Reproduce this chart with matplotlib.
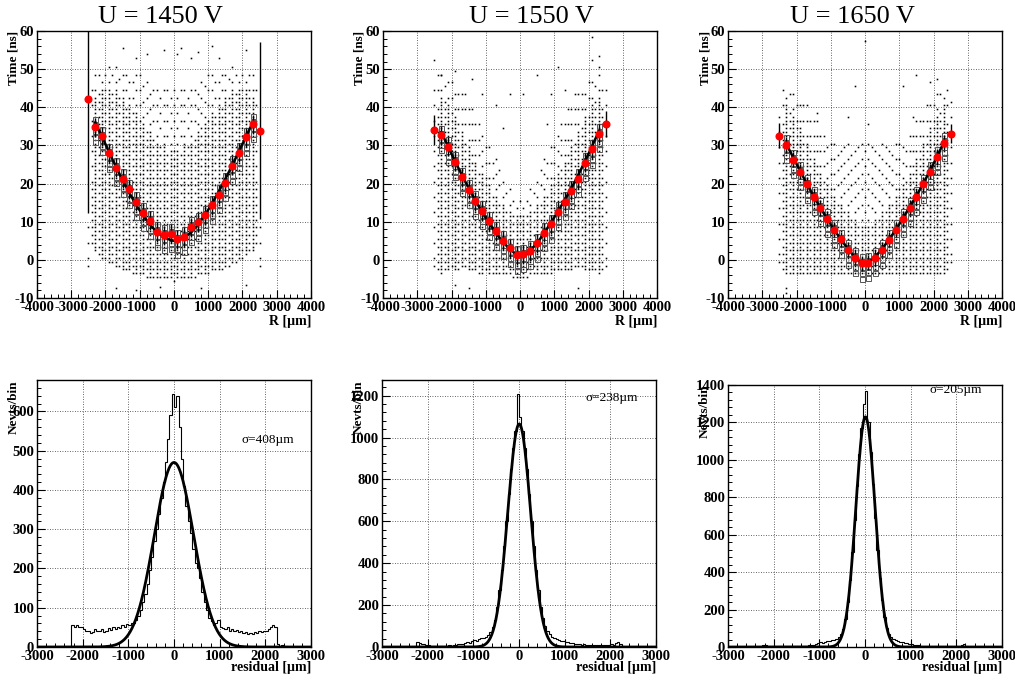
import numpy as np
import matplotlib
matplotlib.use('Agg')
import matplotlib.pyplot as plt
from matplotlib.ticker import MultipleLocator

plt.rcParams['font.family'] = ['Liberation Serif', 'DejaVu Serif']
plt.rcParams['axes.unicode_minus'] = False

W, H = 1015, 680

titles = ['U = 1450 V', 'U = 1550 V', 'U = 1650 V']
sigma_labels = ['σ=408µm', 'σ=238µm', 'σ=205µm']

# ---- top row: drift time vs R ----
red_x = [-2500, -2300, -2100, -1900, -1700, -1500, -1300, -1100, -900, -700, -500, -300, -100,
         100, 300, 500, 700, 900, 1100, 1300, 1500, 1700, 1900, 2100, 2300, 2500]
red_1450 = [42.3, 34.8, 32.4, 27.9, 24.2, 21.3, 18.5, 15.2, 12.4, 10.2, 7.3, 6.5, 6.9,
            5.4, 6.0, 8.6, 9.8, 11.7, 14.3, 17.1, 20.2, 24.7, 28.1, 32.1, 35.6, 33.8]
red_1550 = [34.1, 32.7, 29.6, 25.7, 21.6, 18.4, 15.4, 12.8, 10.1, 7.5, 5.0, 3.0, 1.2,
            1.5, 2.3, 4.3, 7.1, 9.3, 12.6, 15.2, 18.1, 21.2, 25.5, 29.0, 33.1, 35.6]
red_1650 = [32.5, 30.1, 26.3, 23.1, 19.8, 16.5, 13.6, 10.8, 7.9, 5.4, 2.7, 0.6, -0.9,
            -0.7, 0.5, 2.7, 5.3, 7.9, 10.8, 13.7, 16.5, 19.8, 23.1, 27.0, 30.7, 33.1]
# error bars (down, up) of the end points; inner points share one value
err_ends = {'1450': ((30.0, 20.0), (23.0, 23.4)),
            '1550': ((4.0, 4.0), (3.5, 3.5)),
            '1650': ((3.3, 3.3), (2.5, 2.5))}
err_inner = [2.5, 2.5, 2.0]

fit_x = [-2300, -2100, -1900, -1700, -1500, -1300, -1100, -900, -700, -500, -300, -100, 0,
         100, 300, 500, 700, 900, 1100, 1300, 1500, 1700, 1900, 2100, 2300]
fit_1450 = [36.0, 32.3, 28.3, 24.5, 20.9, 17.5, 14.3, 11.6, 9.2, 7.3, 6.0, 5.2, 5.0,
            5.1, 5.8, 7.2, 9.2, 11.7, 14.6, 17.8, 21.2, 24.8, 28.5, 32.3, 36.0]
fit_1550 = [33.5, 29.7, 25.9, 22.3, 18.8, 15.5, 12.4, 9.6, 7.0, 4.7, 2.8, 1.4, 1.1,
            1.2, 2.4, 4.4, 6.9, 9.7, 12.6, 15.6, 18.8, 22.2, 25.9, 29.7, 33.7]
fit_1650 = [30.4, 26.9, 23.4, 20.0, 16.7, 13.6, 10.7, 7.9, 5.3, 2.9, 0.8, -0.8, -1.1,
            -0.8, 0.8, 2.9, 5.3, 7.9, 10.8, 13.8, 16.8, 20.0, 23.4, 27.0, 30.8]

# scatter columns (R bins) with occupied time range: filled [lo, mid], thin (mid, hi]
col_x = list(range(-2500, 2501, 100))
lo_1450 = [-2, 4, 2, 1, 0, 0, -1, -1, -2, -2, -3, -3, -3, -4, -4, -4, -4, -5, -5, -5, -5, -5, -5, -5, -5, -6,
           -5, -5, -5, -5, -5, -5, -4, -4, -4, -4, -3, -3, -3, -3, -2, -2, -1, -1, 0, 0, 1, 2, 2, 4, -2]
mid_1450 = [-2, 20, 42, 44, 44, 44, 44, 44, 44, 43, 42, 40, 40, 38, 38, 36, 35, 34, 33, 32, 30, 30, 30, 28, 28, 28,
            28, 28, 30, 30, 30, 32, 33, 34, 35, 36, 38, 38, 40, 40, 42, 43, 44, 44, 44, 44, 44, 44, 42, 20, -2]
hi_1450 = [10, 46, 49, 49, 49, 49, 50, 50, 50, 50, 50, 50, 49, 49, 49, 48, 48, 47, 46, 46, 45, 45, 45, 44, 44, 44,
           44, 44, 45, 45, 45, 46, 46, 47, 48, 48, 49, 49, 49, 50, 50, 50, 50, 50, 49, 49, 49, 49, 49, 46, 10]
lo_1550 = [-2, -3, -4, -3, -3, -2, -3, -3, -2, -2, -3, -3, -3, -4, -4, -3, -4, -4, -4, -4, -4, -4, -4, -5, -5, -5,
           -5, -5, -4, -4, -4, -4, -4, -4, -4, -3, -3, -3, -3, -3, -3, -2, -2, -2, -3, -3, -3, -3, -4, -3, -2]
mid_1550 = [-2, 40, 42, 41, 40, 38, 37, 35, 33, 31, 29, 27, 25, 23, 22, 21, 19, 17, 16, 15, 14, 13, 12, 11, 11, 11,
            11, 11, 12, 13, 14, 15, 16, 17, 19, 21, 22, 23, 25, 27, 29, 31, 33, 35, 37, 38, 40, 41, 42, 40, -2]
hi_1550 = [46, 48, 48, 47, 47, 46, 46, 45, 44, 43, 42, 40, 38, 36, 34, 32, 30, 28, 26, 24, 22, 20, 18, 18, 16, 16,
           16, 18, 18, 20, 22, 24, 26, 28, 30, 32, 34, 36, 38, 40, 42, 43, 44, 45, 46, 46, 47, 47, 48, 47, 46]
lo_1650 = [-1, -3, -4, -4, -4, -4, -4, -4, -4, -4, -4, -4, -4, -4, -4, -4, -4, -4, -4, -4, -4, -4, -4, -4, -4, -4,
           -4, -4, -4, -4, -4, -4, -4, -4, -4, -4, -4, -4, -4, -4, -4, -4, -4, -4, -4, -4, -4, -4, -4, -3, -1]
mid_1650 = [-1, 36, 40, 39, 37, 36, 34, 32, 30, 28, 26, 24, 22, 20, 19, 18, 16, 15, 14, 13, 12, 11, 10, 9, 8, 8,
            8, 9, 10, 11, 12, 13, 14, 15, 16, 18, 19, 20, 22, 24, 26, 28, 30, 32, 34, 36, 37, 39, 40, 36, -1]
hi_1650 = [40, 44, 45, 45, 44, 43, 42, 40, 40, 39, 38, 36, 34, 32, 31, 30, 30, 30, 30, 30, 30, 30, 30, 30, 30, 30,
           30, 30, 30, 30, 30, 30, 30, 30, 30, 30, 30, 31, 32, 34, 36, 38, 39, 40, 42, 43, 44, 45, 45, 44, 44]
# isolated hits outside the bands
out_1450 = [(-1500, 55.5), (-1100, 53), (-800, 54), (-300, 55), (100, 54), (200, 55.5), (500, 53), (700, 54.5),
            (1100, 56), (1300, 53), (2100, 55), (-1700, -7.5), (-1100, -8), (-400, -7), (800, -7.5), (2100, -6.5)]
out_1550 = [(-2500, 52.5), (-2300, 48.5), (-1900, 49.5), (-1400, 47.5), (-1100, 43.5), (-700, 40.5), (-500, 34.5),
            (-300, 43.5), (100, 43.5), (500, 48.5), (800, 35.5), (900, 43.5), (1100, 50.5), (1300, 44.5),
            (2100, 58.5), (2100, 52.5), (2300, 53.5), (2300, 50.5), (-1900, -6.5), (-1500, -7.5), (1700, -7.5)]
out_1650 = [(0, 57.5), (-300, 45.5), (-500, 37.5), (100, 35.5), (1500, 48.5), (2100, 47.5), (1900, 46.5),
            (-2300, -7.5), (-2300, -8.8), (1100, 45.5), (-1400, 38.5), (1400, 37.5)]

# ---- bottom row: residual histograms ----
bin_edges = np.arange(-2250, 2501, 50)
h_1450 = [55, 50, 55, 50, 52, 45, 40, 42, 35, 38,
          45, 42, 40, 45, 38, 42, 48, 44, 50, 45,
          52, 48, 55, 50, 58, 55, 62, 60, 70, 80,
          95, 115, 135, 160, 195, 230, 270, 300, 340, 380,
          420, 470, 530, 590, 645, 610, 640, 560, 480, 410,
          360, 320, 290, 250, 215, 200, 175, 140, 115, 95,
          75, 65, 55, 60, 70, 50, 48, 45, 50, 42,
          45, 40, 43, 38, 40, 35, 38, 32, 36, 34,
          38, 36, 40, 38, 42, 40, 45, 50, 55, 50,
          8, 3, 5, 2, 3]
h_1550 = [22, 18, 15, 14, 10, 8, 6, 5, 4, 5,
          6, 5, 7, 6, 8, 7, 10, 9, 12, 14,
          15, 18, 22, 20, 28, 32, 30, 38, 42, 42,
          48, 55, 70, 95, 130, 190, 270, 370, 480, 600,
          730, 850, 950, 1030, 1210, 1100, 1030, 950, 850, 730,
          600, 480, 370, 270, 190, 140, 100, 75, 60, 50,
          45, 40, 35, 30, 28, 25, 22, 20, 18, 15,
          14, 12, 10, 12, 10, 8, 10, 8, 9, 8,
          10, 9, 8, 10, 8, 12, 10, 20, 22, 15,
          3, 0, 2, 0, 1]
h_1650 = [12, 10, 8, 6, 5, 4, 3, 3, 4, 3,
          4, 3, 4, 5, 4, 5, 6, 5, 7, 8,
          9, 10, 12, 15, 20, 25, 22, 28, 30, 30,
          35, 40, 45, 55, 70, 95, 150, 240, 360, 510,
          680, 860, 1030, 1170, 1300, 1370, 1200, 1040, 870, 690,
          520, 370, 250, 160, 100, 70, 55, 45, 38, 32,
          28, 25, 22, 20, 18, 15, 12, 10, 9, 8,
          7, 6, 5, 5, 4, 4, 3, 4, 3, 4,
          3, 4, 3, 4, 5, 5, 6, 10, 14, 8,
          2, 0, 1, 0, 0]
# gaussian fit parameters (amplitude, mean, width) as drawn
gaus_amp = [470, 1065, 1230]
gaus_mean = [0, 5, 10]
gaus_width = [430, 250, 210]
h_ymax = [680, 1275, 1400]
h_ymajor = [100, 200, 200]

red_all = [red_1450, red_1550, red_1650]
fit_all = [fit_1450, fit_1550, fit_1650]
lo_all = [lo_1450, lo_1550, lo_1650]
mid_all = [mid_1450, mid_1550, mid_1650]
hi_all = [hi_1450, hi_1550, hi_1650]
out_all = [out_1450, out_1550, out_1650]
hist_all = [h_1450, h_1550, h_1650]
keys = ['1450', '1550', '1650']


def px(x, y):
    return x / W, 1 - y / H


def style_axes(ax):
    ax.tick_params(which='both', direction='in', top=False, right=False, pad=2,
                   labelsize=10.5)
    ax.tick_params(which='major', length=5.5, width=0.8)
    ax.tick_params(which='minor', length=3, width=0.7)
    for lab in ax.get_xticklabels() + ax.get_yticklabels():
        lab.set_fontweight('bold')
    for s in ax.spines.values():
        s.set_linewidth(1.0)
    ax.grid(True, which='major', linestyle=(0, (1, 2)), color='black', linewidth=0.6, alpha=0.8)
    ax.set_axisbelow(True)


fig = plt.figure(figsize=(W / 100, H / 100), dpi=100)

top_left = [37, 383, 728]
bot_left = [37, 382, 728]
title_cx = [160, 531, 852]
sig_pos = [(242, 440), (585, 398), (930, 390)]

for i in range(3):
    # ---------- top panel ----------
    l, b = px(top_left[i], 298)
    ax = fig.add_axes([l, b, 274 / W, 267 / H])
    xs, ys = [], []
    for k, (cx, lo, mid, hi) in enumerate(zip(col_x, lo_all[i], mid_all[i], hi_all[i])):
        # columns on the profile points are filled every ns, the ones between every 2 ns
        filled = np.arange(lo, mid + 1, 1.0 if k % 2 == 0 else 2.0)
        thin = np.arange(mid + 2 + 2 * (k % 2), hi + 1, 4.0)
        for yv in np.concatenate([filled, thin]):
            xs.append(cx)
            ys.append(yv + 0.5)
    for ox, oy in out_all[i]:
        xs.append(ox)
        ys.append(oy)
    ax.plot(xs, ys, linestyle='none', marker='s', ms=1.15, mew=0, color='black', zorder=2)

    # dense bins near the profile drawn as open boxes
    bx, by = [], []
    for rx, ry in zip(red_x[1:-1], red_all[i][1:-1]):
        for dy in (-4, -2.5, -1, 0.5, 2):
            bx.append(rx)
            by.append(ry + dy)
    ax.plot(bx, by, linestyle='none', marker='s', ms=3.6, mfc='none', mec='#555555', mew=0.7, zorder=3)

    ax.plot(fit_x, fit_all[i], color='black', lw=1.8, zorder=4)

    (d0, u0), (d1, u1) = err_ends[keys[i]]
    e = err_inner[i]
    n = len(red_x)
    yerr_lo = [d0] + [e] * (n - 2) + [d1]
    yerr_hi = [u0] + [e] * (n - 2) + [u1]
    ax.errorbar(red_x, red_all[i], yerr=[yerr_lo, yerr_hi], fmt='o', color='red', ms=4.8,
                ecolor='black', elinewidth=1.0, capsize=0, zorder=5)

    ax.set_xlim(-4000, 4000)
    ax.set_ylim(-10, 60)
    ax.xaxis.set_major_locator(MultipleLocator(1000))
    ax.xaxis.set_minor_locator(MultipleLocator(200))
    ax.yaxis.set_major_locator(MultipleLocator(10))
    ax.yaxis.set_minor_locator(MultipleLocator(2))
    style_axes(ax)

    tx, ty = px(title_cx[i], 17)
    fig.text(tx, ty, titles[i], ha='center', va='center', fontsize=19)
    lx, ly = px(top_left[i] - 23, 31)
    fig.text(lx, ly, 'Time [ns]', rotation=90, ha='center', va='top', fontsize=9.5, fontweight='bold')
    rx_, ry_ = px(top_left[i] + 274, 322)
    fig.text(rx_, ry_, 'R [µm]', ha='right', va='center', fontsize=10, fontweight='bold')

    # ---------- bottom panel ----------
    top_px = 380 if i < 2 else 385
    l, b = px(bot_left[i], 647)
    ax2 = fig.add_axes([l, b, 274 / W, (647 - top_px) / H])
    ax2.stairs(hist_all[i], bin_edges, color='black', lw=0.8, zorder=3)
    xg = np.linspace(-3000, 3000, 601)
    yg = gaus_amp[i] * np.exp(-0.5 * ((xg - gaus_mean[i]) / gaus_width[i]) ** 2)
    ax2.plot(xg, yg, color='black', lw=2.0, zorder=4)
    ax2.set_xlim(-3000, 3000)
    ax2.set_ylim(0, h_ymax[i])
    ax2.xaxis.set_major_locator(MultipleLocator(1000))
    ax2.xaxis.set_minor_locator(MultipleLocator(200))
    ax2.yaxis.set_major_locator(MultipleLocator(h_ymajor[i]))
    ax2.yaxis.set_minor_locator(MultipleLocator(h_ymajor[i] / 5))
    style_axes(ax2)

    lx, ly = px(bot_left[i] - 23, top_px)
    fig.text(lx, ly, 'Nevts/bin', rotation=90, ha='center', va='top', fontsize=9.5, fontweight='bold')
    rx_, ry_ = px(bot_left[i] + 274, 668)
    fig.text(rx_, ry_, 'residual [µm]', ha='right', va='center', fontsize=10, fontweight='bold')
    sx, sy = px(*sig_pos[i])
    fig.text(sx, sy, sigma_labels[i], ha='left', va='center', fontsize=9.5)

fig.savefig('out.png', dpi=100)
